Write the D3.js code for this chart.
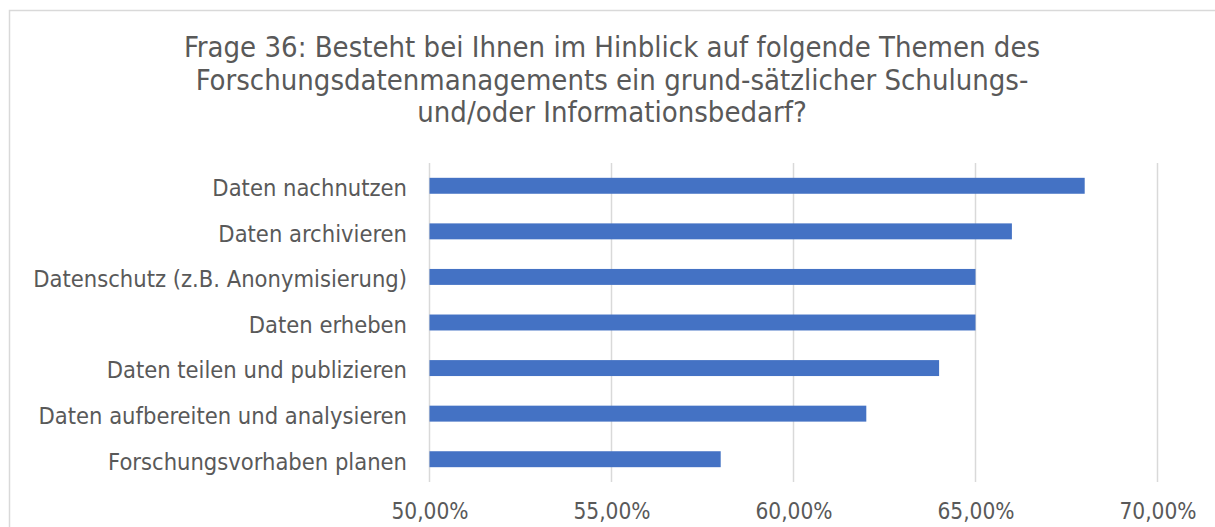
<!DOCTYPE html>
<html>
<head>
<meta charset="utf-8">
<script src="https://cdn.jsdelivr.net/npm/d3@7"></script>
<style>
  html, body { margin: 0; padding: 0; background: #fff; }
  svg { display: block; }
  text { font-family: "DejaVu Sans Condensed", "DejaVu Sans", sans-serif; fill: #595959; }
</style>
</head>
<body>
<svg id="chart" width="1215" height="527"></svg>
<script>
// Survey topics (top to bottom) and share of respondents with training needs, in %
const categories = [
  "Daten nachnutzen",
  "Daten archivieren",
  "Datenschutz (z.B. Anonymisierung)",
  "Daten erheben",
  "Daten teilen und publizieren",
  "Daten aufbereiten und analysieren",
  "Forschungsvorhaben planen"
];
const values = [68, 66, 65, 65, 64, 62, 58];
const tickValues = [50, 55, 60, 65, 70];
const titleLines = [
  "Frage 36: Besteht bei Ihnen im Hinblick auf folgende Themen des",
  "Forschungsdatenmanagements ein grund-sätzlicher Schulungs-",
  "und/oder Informationsbedarf?"
];

const svg = d3.select("#chart");

// chart frame
svg.append("rect")
  .attr("x", 9.5).attr("y", 10.5)
  .attr("width", 1215).attr("height", 530)
  .attr("fill", "none").attr("stroke", "#d9d9d9").attr("stroke-width", 1.5);

const x = d3.scaleLinear().domain([50, 70]).range([429.5, 1157.5]);
const y = d3.scaleBand().domain(categories).range([163, 482]).paddingInner(0.65).paddingOuter(0.325);

// vertical gridlines
svg.append("g").selectAll("line").data(tickValues).join("line")
  .attr("x1", d => x(d)).attr("x2", d => x(d))
  .attr("y1", 163).attr("y2", 482)
  .attr("stroke", "#d9d9d9").attr("stroke-width", 1.5);

// bars
svg.append("g").selectAll("rect").data(categories).join("rect")
  .attr("x", x(50))
  .attr("y", d => y(d))
  .attr("width", (d, i) => x(values[i]) - x(50))
  .attr("height", y.bandwidth())
  .attr("fill", "#4472c4");

// category labels
svg.append("g").selectAll("text").data(categories).join("text")
  .attr("x", 407)
  .attr("y", d => y(d) + y.bandwidth() / 2)
  .attr("dy", "0.44em")
  .attr("text-anchor", "end")
  .style("font-size", "23.5px")
  .text(d => d);

// bottom axis tick labels
const fmt = v => d3.format(".2f")(v).replace(".", ",") + "%";
const xAxis = d3.axisBottom(x).tickValues(tickValues).tickFormat(fmt).tickSize(0).tickPadding(0);
const ax = svg.append("g").attr("transform", "translate(0,518.5)").call(xAxis);
ax.select(".domain").remove();
ax.selectAll("text")
  .attr("y", 0).attr("dy", 0)
  .style("font-size", "22.5px")
  .style("font-family", "'DejaVu Sans Condensed', 'DejaVu Sans', sans-serif")
  .attr("fill", "#595959");

// title
svg.append("text")
  .attr("text-anchor", "middle")
  .style("font-size", "29px")
  .selectAll("tspan").data(titleLines).join("tspan")
  .attr("x", 612)
  .attr("y", (d, i) => 57 + i * 32.5)
  .text(d => d);
</script>
</body>
</html>
